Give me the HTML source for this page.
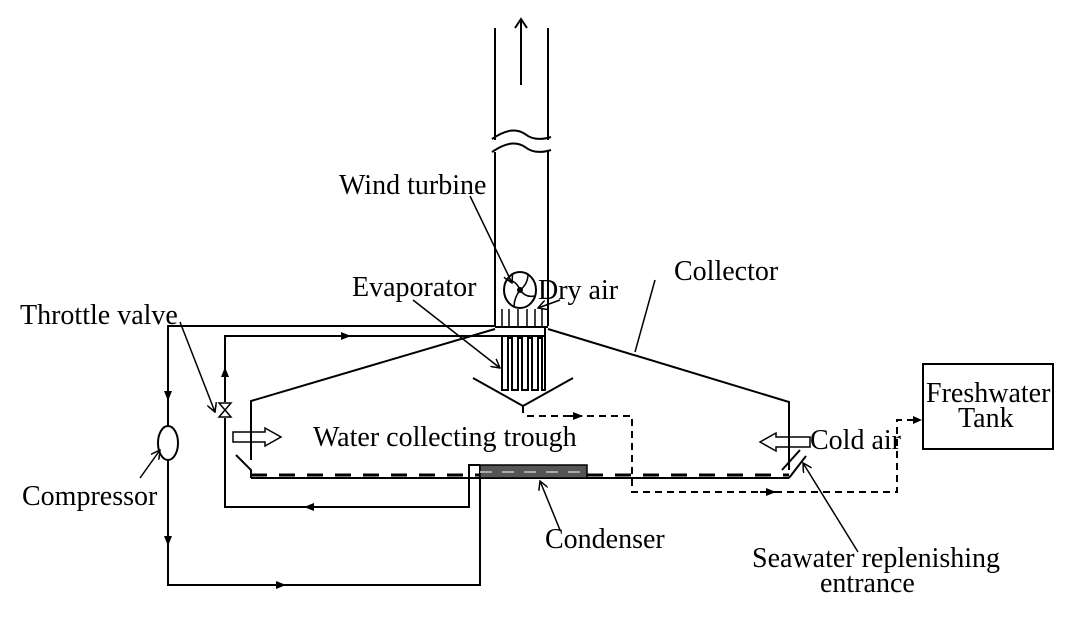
<!DOCTYPE html>
<html><head><meta charset="utf-8"><style>
html,body{margin:0;padding:0;background:#fff;}
svg{display:block;}
text{font-family:"Liberation Serif",serif;font-size:28px;fill:#000;}
</style></head><body>
<svg width="1080" height="619" viewBox="0 0 1080 619" xmlns="http://www.w3.org/2000/svg">
<defs>
<marker id="a" markerWidth="10" markerHeight="8" refX="9" refY="4" orient="auto" markerUnits="userSpaceOnUse"><path d="M0,0 L10,4 L0,8 Z" fill="#000"/></marker>
<marker id="o" markerWidth="10" markerHeight="10" refX="9" refY="5" orient="auto" markerUnits="userSpaceOnUse"><path d="M0,0 L9,5 L0,10" fill="none" stroke="#000" stroke-width="1.5"/></marker>
</defs>
<g stroke="#000" stroke-width="2" fill="none">
<line x1="495" y1="28" x2="495" y2="140"/><line x1="548" y1="28" x2="548" y2="140"/>
<path d="M492,139 Q512,125 525,134 Q535,142 551,137"/>
<path d="M492,152 Q512,138 525,147 Q535,155 551,150"/>
<line x1="495" y1="152" x2="495" y2="326"/><line x1="548" y1="150" x2="548" y2="326"/>
<line x1="521" y1="85" x2="521" y2="20"/><path d="M515,28 L521,19 L527,28"/>
<ellipse cx="520" cy="290" rx="16" ry="18"/>
<path d="M520,290 Q516,280 507,280 M520,290 Q528,284 528,274 M520,290 Q526,298 534,296 M520,290 Q514,298 514,307" stroke-width="1.5"/>
<circle cx="520" cy="290" r="2"/>
<path d="M502,309V326 M509,309V326 M518,309V326 M527,309V326 M535,309V326 M542,309V326" stroke-width="1.5"/>
<line x1="495" y1="327" x2="548" y2="327"/>
<path d="M500,336 H545 V327"/>
<path d="M502,336 V390 H508 V338 H512 V390 H518 V338 H522 V390 H528 V338 H532 V390 H538 V338 H542 V390 H545 V336"/>
<path d="M473,378 L523,406 L573,378 M523,406 V413"/>
<path d="M495,329 L251,401 V460"/>
<path d="M548,329 L789,402 V470"/>
<path d="M495,326 H168 V426 M168,460 V585 H480 V465" />
<line x1="168" y1="380" x2="168" y2="400" marker-end="url(#a)"/>
<line x1="168" y1="530" x2="168" y2="545" marker-end="url(#a)"/>
<line x1="260" y1="585" x2="285" y2="585" marker-end="url(#a)"/>
<ellipse cx="168" cy="443" rx="10" ry="17"/>
<path d="M500,336 H225 V402 M225,418 V507 H469 V465 H480"/>
<line x1="340" y1="336" x2="350" y2="336" marker-end="url(#a)"/>
<line x1="225" y1="375" x2="225" y2="368" marker-end="url(#a)"/>
<line x1="320" y1="507" x2="305" y2="507" marker-end="url(#a)"/>
<path d="M219,403 L231,403 L219,417 L231,417 Z" stroke-width="1.5"/>
<line x1="251" y1="478" x2="789" y2="478"/>
<path d="M236,455 L251,470 V478" />
<line x1="251" y1="475" x2="789" y2="475" stroke-width="3" stroke-dasharray="16,12"/>
<path d="M789,478 L806,456" /><path d="M782,470 L800,450"/>
<rect x="480" y="465" width="107" height="13" fill="#555" stroke="#000" stroke-width="1.5"/>
<line x1="480" y1="472" x2="587" y2="472" stroke="#aaa" stroke-width="2" stroke-dasharray="12,10"/>
<path d="M233,432 H265 V428 L281,437 L265,446 V442 H233 Z" stroke-width="1.5"/>
<path d="M810,437 H776 V433 L760,442 L776,451 V447 H810 Z" stroke-width="1.5"/>
<path d="M527,416 H632 V492 H897 V420 H918" stroke-dasharray="7,5"/>
<line x1="565" y1="416" x2="582" y2="416" marker-end="url(#a)"/>
<line x1="760" y1="492" x2="775" y2="492" marker-end="url(#a)"/>
<path d="M913,416 L922,420 L913,424 Z" fill="#000" stroke="none"/>
<rect x="923" y="364" width="130" height="85"/>
<g stroke-width="1.5">
<line x1="470" y1="196" x2="512" y2="283" marker-end="url(#o)"/>
<line x1="413" y1="300" x2="500" y2="368" marker-end="url(#o)"/>
<line x1="560" y1="300" x2="538" y2="308" marker-end="url(#o)"/>
<line x1="655" y1="280" x2="635" y2="352"/>
<line x1="180" y1="322" x2="215" y2="412" marker-end="url(#o)"/>
<line x1="140" y1="478" x2="160" y2="450" marker-end="url(#o)"/>
<line x1="560" y1="530" x2="540" y2="481" marker-end="url(#o)"/>
<line x1="858" y1="552" x2="803" y2="463" marker-end="url(#o)"/>
</g>
</g>
<text x="339" y="194">Wind turbine</text>
<text x="352" y="296">Evaporator</text>
<text x="538" y="299">Dry air</text>
<text x="674" y="280">Collector</text>
<text x="20" y="324">Throttle valve</text>
<text x="313" y="446">Water collecting trough</text>
<text x="810" y="449">Cold air</text>
<text x="22" y="505">Compressor</text>
<text x="545" y="548">Condenser</text>
<text x="752" y="567">Seawater replenishing</text>
<text x="820" y="592">entrance</text>
<text x="926" y="402">Freshwater</text>
<text x="958" y="427">Tank</text>
</svg>
</body></html>
